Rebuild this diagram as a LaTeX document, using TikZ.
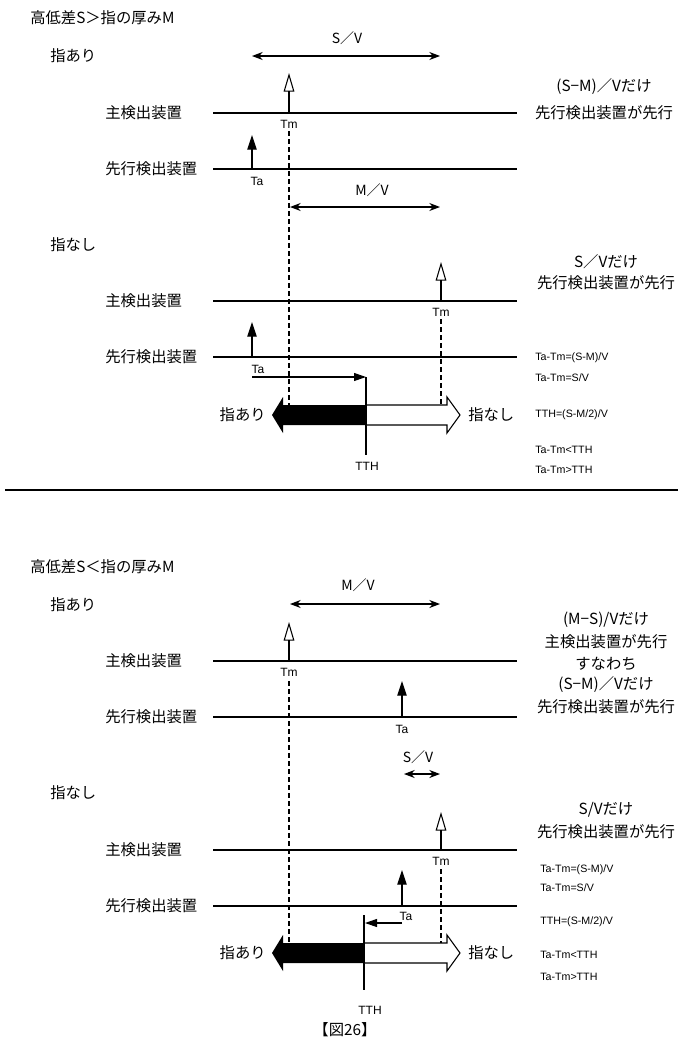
\documentclass[tikz,border=0pt]{standalone}
\usepackage{fontspec}
\setmainfont{Liberation Sans}
\newfontfamily\jp{Noto Sans CJK JP}
\usetikzlibrary{arrows.meta}
\begin{document}
\begin{tikzpicture}[x=0.75pt,y=-0.75pt,
  jlab/.style={font=\jp\fontsize{11.5}{13}\selectfont, inner sep=0pt},
  rlab/.style={font=\jp\fontsize{11.5}{13}\selectfont, inner sep=0pt},
  flab/.style={font=\fontsize{8}{9}\selectfont, inner sep=0pt, anchor=west},
  tlab/.style={font=\fontsize{9}{10}\selectfont, inner sep=0pt},
  vlab/.style={font=\jp\fontsize{10.5}{12}\selectfont, inner sep=0pt},
  track/.style={line width=1pt},
  guide/.style={dash pattern=on 4pt off 2pt, line width=0.8pt},
  wharrow/.style={-{Triangle[open,length=14pt,width=8pt]}, line width=0.8pt},
  blarrow/.style={-{Triangle[length=11pt,width=7pt]}, line width=0.8pt},
  harrow/.style={-{Triangle[length=9pt,width=6pt]}, line width=0.8pt},
  spanarrow/.style={{Stealth[length=8pt,width=6pt]}-{Stealth[length=8pt,width=6pt]}, line width=0.9pt},
  thin/.style={line width=0.8pt}
]
\useasboundingbox (0,0) rectangle (683,1046);

%%%%%%%%%%%%%%%% TOP %%%%%%%%%%%%%%%%
\node[jlab, anchor=west] (t1) at (30,18) {高低差S＞指の厚みM};
\node[jlab, anchor=west] (y1) at (50,56) {指あり};
\coordinate (sv1a) at (252,56); \coordinate (sv1b) at (440,56);
\draw[spanarrow] (sv1a) -- (sv1b);
\node[vlab] (sv1l) at (347,38) {S／V};

\node[jlab, anchor=west] (m1l) at (105,113) {主検出装置};
\coordinate (m1a) at (213,113); \coordinate (m1b) at (517,113);
\draw[track] (m1a) -- (m1b);
\node[jlab, anchor=west] (p1l) at (105,169) {先行検出装置};
\coordinate (p1a) at (213,169); \coordinate (p1b) at (517,169);
\draw[track] (p1a) -- (p1b);

\coordinate (tm1) at (289,113); \coordinate (tm1t) at (289,73);
\draw[wharrow] (tm1) -- (tm1t);
\node[tlab] (tm1l) at (289,124) {Tm};
\coordinate (ta1) at (252,169); \coordinate (ta1t) at (252,135);
\draw[blarrow] (ta1) -- (ta1t);
\node[tlab] (ta1l) at (257,181) {Ta};

\coordinate (mv1a) at (290,207); \coordinate (mv1b) at (440,207);
\draw[spanarrow] (mv1a) -- (mv1b);
\node[vlab] (mv1l) at (372,190) {M／V};

\node[rlab] (r11) at (604,87) {(S−M)／Vだけ};
\node[rlab] (r12) at (604,113) {先行検出装置が先行};

\node[jlab, anchor=west] (n1) at (50,245) {指なし};
\node[jlab, anchor=west] (m2l) at (105,301) {主検出装置};
\coordinate (m2a) at (213,301); \coordinate (m2b) at (517,301);
\draw[track] (m2a) -- (m2b);
\node[jlab, anchor=west] (p2l) at (105,357) {先行検出装置};
\coordinate (p2a) at (213,357); \coordinate (p2b) at (517,357);
\draw[track] (p2a) -- (p2b);

\coordinate (tm2) at (441,301); \coordinate (tm2t) at (441,262);
\draw[wharrow] (tm2) -- (tm2t);
\node[tlab] (tm2l) at (441,312) {Tm};
\coordinate (ta2) at (252,357); \coordinate (ta2t) at (252,322);
\draw[blarrow] (ta2) -- (ta2t);
\node[tlab] (ta2l) at (258,369) {Ta};

\node[rlab] (r21) at (606,262) {S／Vだけ};
\node[rlab] (r22) at (606,283) {先行検出装置が先行};

% guides
\coordinate (g1a) at (289,131); \coordinate (g1b) at (289,405);
\draw[guide] (g1a) -- (g1b);
\coordinate (g2a) at (441,319); \coordinate (g2b) at (441,405);
\draw[guide] (g2a) -- (g2b);

% Ta horizontal + TTH
\coordinate (h1a) at (252,377); \coordinate (h1b) at (366,377);
\draw[harrow] (h1a) -- (h1b);
\coordinate (tth1a) at (366,377); \coordinate (tth1b) at (366,455);
\draw[thin] (tth1a) -- (tth1b);

% double arrow
\fill (366,405) -- (283,405) -- (283,397) -- (272,415) -- (283,433) -- (283,425) -- (366,425) -- cycle;
\draw[thin, fill=white] (366,405) -- (447,405) -- (447,397) -- (460,415) -- (447,433) -- (447,425) -- (366,425);
\draw[thin] (366,405) -- (366,425);
\node[jlab, anchor=east] (ya1) at (266,415) {指あり};
\node[jlab, anchor=west] (na1) at (468,415) {指なし};
\node[tlab] (tth1l) at (367,466) {TTH};

\node[flab] (f11) at (535,358) {Ta-Tm=(S-M)/V};
\node[flab] (f12) at (535,378) {Ta-Tm=S/V};
\node[flab] (f13) at (535,415) {TTH=(S-M/2)/V};
\node[flab] (f14) at (535,450) {Ta-Tm<TTH};
\node[flab] (f15) at (535,470) {Ta-Tm>TTH};

% separator
\coordinate (sepa) at (5,490); \coordinate (sepb) at (678,490);
\draw[line width=1pt] (sepa) -- (sepb);

%%%%%%%%%%%%%%%% BOTTOM %%%%%%%%%%%%%%%%
\node[jlab, anchor=west] (t2) at (30,567) {高低差S＜指の厚みM};
\node[jlab, anchor=west] (y2) at (50,605) {指あり};
\coordinate (mv2a) at (290,604); \coordinate (mv2b) at (440,604);
\draw[spanarrow] (mv2a) -- (mv2b);
\node[vlab] (mv2l) at (358,585) {M／V};

\node[jlab, anchor=west] (m3l) at (105,661) {主検出装置};
\coordinate (m3a) at (213,661); \coordinate (m3b) at (517,661);
\draw[track] (m3a) -- (m3b);
\node[jlab, anchor=west] (p3l) at (105,717) {先行検出装置};
\coordinate (p3a) at (213,717); \coordinate (p3b) at (517,717);
\draw[track] (p3a) -- (p3b);

\coordinate (tm3) at (289,661); \coordinate (tm3t) at (289,622);
\draw[wharrow] (tm3) -- (tm3t);
\node[tlab] (tm3l) at (289,672) {Tm};
\coordinate (ta3) at (402,717); \coordinate (ta3t) at (402,681);
\draw[blarrow] (ta3) -- (ta3t);
\node[tlab] (ta3l) at (402,729) {Ta};

\node[vlab] (sv2l) at (418,757) {S／V};
\coordinate (sv2a) at (404,774); \coordinate (sv2b) at (440,774);
\draw[spanarrow] (sv2a) -- (sv2b);

\node[rlab] (r31) at (606,620) {(M−S)/Vだけ};
\node[rlab] (r32) at (606,642) {主検出装置が先行};
\node[rlab] (r33) at (606,664) {すなわち};
\node[rlab] (r34) at (606,685) {(S−M)／Vだけ};
\node[rlab] (r35) at (606,707) {先行検出装置が先行};

\node[jlab, anchor=west] (n2) at (50,793) {指なし};
\node[jlab, anchor=west] (m4l) at (105,850) {主検出装置};
\coordinate (m4a) at (213,850); \coordinate (m4b) at (517,850);
\draw[track] (m4a) -- (m4b);
\node[jlab, anchor=west] (p4l) at (105,906) {先行検出装置};
\coordinate (p4a) at (213,906); \coordinate (p4b) at (517,906);
\draw[track] (p4a) -- (p4b);

\coordinate (tm4) at (441,850); \coordinate (tm4t) at (441,812);
\draw[wharrow] (tm4) -- (tm4t);
\node[tlab] (tm4l) at (441,861) {Tm};
\coordinate (ta4) at (402,906); \coordinate (ta4t) at (402,870);
\draw[blarrow] (ta4) -- (ta4t);
\node[tlab] (ta4l) at (406,916) {Ta};

\node[rlab] (r41) at (606,810) {S/Vだけ};
\node[rlab] (r42) at (606,832) {先行検出装置が先行};

\coordinate (g3a) at (289,681); \coordinate (g3b) at (289,943);
\draw[guide] (g3a) -- (g3b);
\coordinate (g4a) at (441,869); \coordinate (g4b) at (441,943);
\draw[guide] (g4a) -- (g4b);

\coordinate (h2a) at (402,923); \coordinate (h2b) at (365,923);
\draw[harrow] (h2a) -- (h2b);
\coordinate (tth2a) at (364,915); \coordinate (tth2b) at (364,990);
\draw[thin] (tth2a) -- (tth2b);

\fill (364,943) -- (283,943) -- (283,935) -- (272,953) -- (283,971) -- (283,963) -- (364,963) -- cycle;
\draw[thin, fill=white] (364,943) -- (447,943) -- (447,935) -- (460,953) -- (447,971) -- (447,963) -- (364,963);
\draw[thin] (364,943) -- (364,963);
\node[jlab, anchor=east] (ya2) at (266,953) {指あり};
\node[jlab, anchor=west] (na2) at (468,953) {指なし};
\node[tlab] (tth2l) at (370,1010) {TTH};

\node[flab] (f21) at (540,870) {Ta-Tm=(S-M)/V};
\node[flab] (f22) at (540,888) {Ta-Tm=S/V};
\node[flab] (f23) at (540,922) {TTH=(S-M/2)/V};
\node[flab] (f24) at (540,955) {Ta-Tm<TTH};
\node[flab] (f25) at (540,977) {Ta-Tm>TTH};

\node[jlab] (fig) at (345,1030) {【図26】};
\end{tikzpicture}
\end{document}
